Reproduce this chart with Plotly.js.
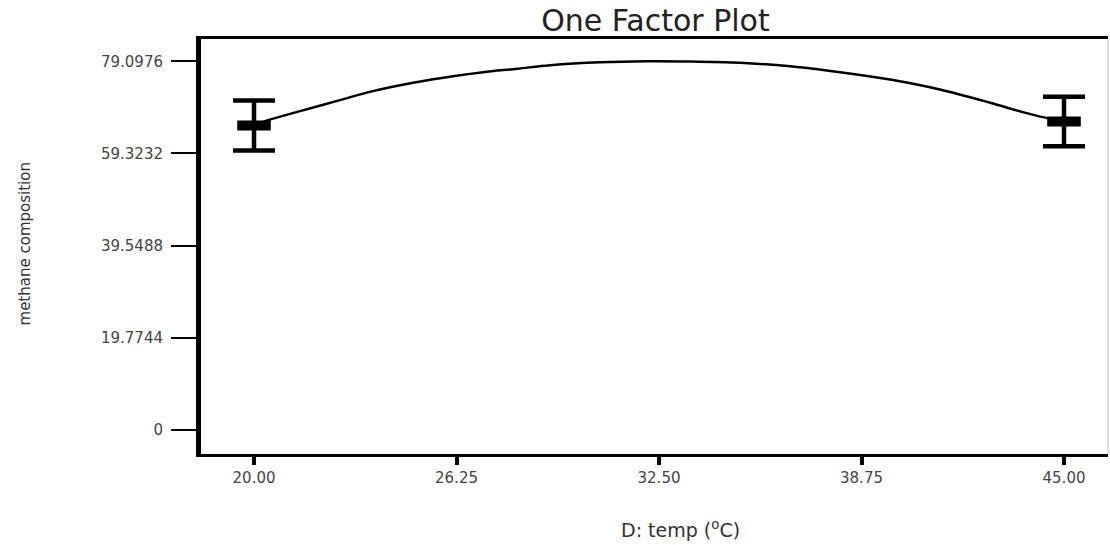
<!DOCTYPE html>
<html>
<head>
<meta charset="utf-8">
<script src="https://cdn.plot.ly/plotly-3.0.1.min.js"></script>
<style>html,body{margin:0;padding:0;background:#fff;}#chart{width:1110px;height:545px;}</style>
</head>
<body>
<div id="chart"></div>
<script>
// Model curve
var curveTemp = [20, 20.34, 21.42, 22.65, 23.67, 24.91, 26.14, 27.07, 28.12, 29.14, 30.68, 32.13, 33.46, 35.00, 36.54, 38.09, 39.63, 41.17, 42.72, 43.73, 44.66, 45];
var curveMethane = [65.34, 66.26, 68.40, 70.76, 72.69, 74.49, 75.90, 76.76, 77.49, 78.26, 78.90, 79.11, 79.05, 78.77, 78.04, 76.76, 75.19, 73.05, 70.20, 68.19, 66.62, 66.19];
// Design points with error bars
var factorTemp = [20, 45];
var factorMean = [65.34, 66.19];
var factorErr = [5.36, 5.30];
// Tick labels
var yTickVals = [0, 19.7744, 39.5488, 59.3232, 79.0976];
var yTickText = ["0", "19.7744", "39.5488", "59.3232", "79.0976"];
var xTickVals = [20, 26.25, 32.5, 38.75, 45];
var xTickText = ["20.00", "26.25", "32.50", "38.75", "45.00"];

var traces = [
  {
    x: curveTemp, y: curveMethane, mode: 'lines', type: 'scatter',
    line: {color: '#000', width: 2.5, shape: 'spline', smoothing: 1},
    hoverinfo: 'skip', showlegend: false
  },
  {
    x: factorTemp, y: factorMean, mode: 'markers', type: 'scatter',
    marker: {symbol: 'line-ew', size: 24, color: '#000', line: {color: '#000', width: 10}},
    error_y: {type: 'data', array: factorErr, visible: true, color: '#000', thickness: 4.5, width: 21},
    showlegend: false
  }
];

var layout = {
  width: 1110, height: 545,
  paper_bgcolor: '#fff', plot_bgcolor: '#fff',
  margin: {l: 201, r: 2, t: 39, b: 91, pad: 0},
  font: {family: 'DejaVu Sans, Arial, sans-serif', color: '#444'},
  title: {
    text: 'One Factor Plot',
    font: {family: 'DejaVu Sans, Arial, sans-serif', size: 30, color: '#222'},
    x: 0.5905, xanchor: 'center', xref: 'container',
    y: 0.962, yanchor: 'middle', yref: 'container'
  },
  xaxis: {
    range: [18.364, 46.358],
    tickmode: 'array', tickvals: xTickVals, ticktext: xTickText,
    ticks: 'outside', ticklen: 8, tickwidth: 4, tickcolor: '#000',
    tickfont: {family: 'DejaVu Sans, Arial, sans-serif', size: 15, color: '#444'},
    showline: true, linecolor: '#000', linewidth: 3, mirror: true,
    showgrid: false, zeroline: false, fixedrange: true
  },
  yaxis: {
    range: [-5.14, 83.87],
    tickmode: 'array', tickvals: yTickVals, ticktext: yTickText,
    ticks: 'outside', ticklen: 25, tickwidth: 2, tickcolor: '#000',
    ticklabelstandoff: 5,
    tickfont: {family: 'DejaVu Sans, Arial, sans-serif', size: 15, color: '#444'},
    showline: true, linecolor: '#000', linewidth: 5,
    showgrid: false, zeroline: false, fixedrange: true
  },
  shapes: [
    {type: 'line', xref: 'paper', yref: 'paper', x0: 1, x1: 1, y0: 0, y1: 1,
     line: {color: '#d0d0d0', width: 1.5}}
  ],
  annotations: [
    {text: 'D: temp (<sup>o</sup>C)', xref: 'paper', yref: 'paper', x: 0.529, y: -0.1805,
     xanchor: 'center', yanchor: 'middle', showarrow: false,
     font: {family: 'DejaVu Sans, Arial, sans-serif', size: 19, color: '#333'}},
    {text: 'methane composition', xref: 'paper', yref: 'paper', x: -0.194, y: 0.505,
     xanchor: 'center', yanchor: 'middle', textangle: -90, showarrow: false,
     font: {family: 'DejaVu Sans, Arial, sans-serif', size: 15, color: '#333'}}
  ]
};

Plotly.newPlot('chart', traces, layout, {staticPlot: true, displayModeBar: false});
</script>
</body>
</html>
